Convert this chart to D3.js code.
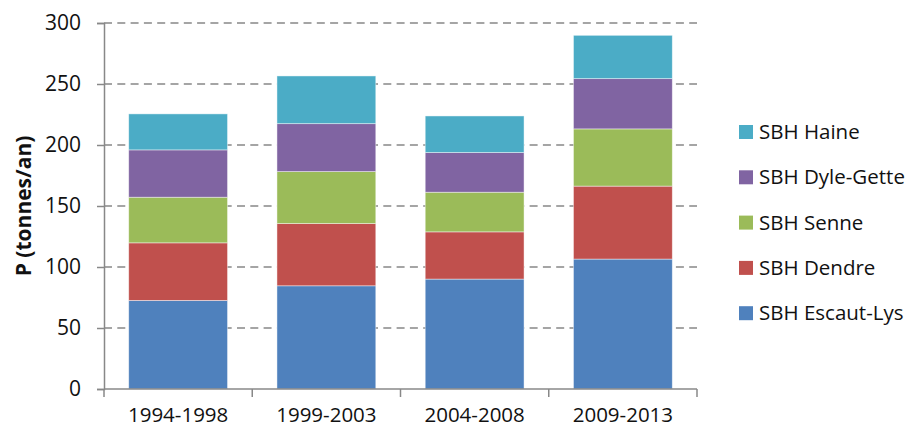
<!DOCTYPE html>
<html>
<head>
<meta charset="utf-8">
<script src="https://cdn.jsdelivr.net/npm/d3@7"></script>
<style>
  html, body { margin: 0; padding: 0; background: #fff; }
  svg { display: block; font-family: "Open Sans", sans-serif; }
</style>
</head>
<body>
<div id="chart"></div>
<script>
// periods (x categories)
const periods = ["1994-1998", "1999-2003", "2004-2008", "2009-2013"];

// series, bottom to top of the stack
const seriesNames = ["SBH Escaut-Lys", "SBH Dendre", "SBH Senne", "SBH Dyle-Gette", "SBH Haine"];
const escautLys = [72.6, 84.6, 90.1, 106.5];
const dendre    = [47.2, 51.0, 38.7, 59.8];
const senne     = [37.4, 42.6, 32.5, 46.9];
const dyleGette = [38.8, 39.3, 32.5, 41.2];
const haine     = [29.5, 39.1, 30.0, 35.5];

const yTicks = [0, 50, 100, 150, 200, 250, 300];
const colors = ["#4F81BD", "#C0504D", "#9BBB59", "#8064A2", "#4BACC6"];

const width = 907, height = 428;
const margin = { top: 23, right: 210, bottom: 39, left: 104 };
const innerW = width - margin.left - margin.right;
const innerH = height - margin.top - margin.bottom;

// table for d3.stack
const seriesValues = [escautLys, dendre, senne, dyleGette, haine];
const table = periods.map((p, i) => {
    const row = { period: p };
    seriesNames.forEach((s, j) => { row[s] = seriesValues[j][i]; });
    return row;
});
const stacked = d3.stack().keys(seriesNames)(table);

const svg = d3.select("#chart").append("svg")
    .attr("width", width)
    .attr("height", height);

const g = svg.append("g")
    .attr("transform", `translate(${margin.left},${margin.top})`);

const x = d3.scaleBand()
    .domain(periods)
    .range([0, innerW])
    .paddingInner(1 / 3)
    .paddingOuter(1 / 6);

const y = d3.scaleLinear()
    .domain([0, 300])
    .range([innerH, 0]);

// gridlines
g.append("g")
    .selectAll("line")
    .data(yTicks.filter(d => d > 0))
    .join("line")
    .attr("x1", 0)
    .attr("x2", innerW)
    .attr("y1", d => y(d))
    .attr("y2", d => y(d))
    .attr("stroke", "#888")
    .attr("stroke-width", 1.5)
    .attr("stroke-dasharray", "8,5.3");

// stacked bars
g.append("g")
    .selectAll("g")
    .data(stacked)
    .join("g")
    .attr("fill", (d, i) => colors[i])
    .selectAll("rect")
    .data(d => d)
    .join("rect")
    .attr("x", d => x(d.data.period))
    .attr("y", d => y(d[1]))
    .attr("width", x.bandwidth())
    .attr("height", d => y(d[0]) - y(d[1]))
    .attr("stroke", "rgba(255,255,255,0.55)")
    .attr("stroke-width", 0.8);

// y axis
const yAxis = g.append("g")
    .call(d3.axisLeft(y).tickValues(yTicks).tickSize(7).tickPadding(16));
yAxis.select(".domain").attr("stroke", "#888").attr("stroke-width", 1.5);
yAxis.selectAll(".tick line").attr("stroke", "#888").attr("stroke-width", 1.5);
yAxis.selectAll(".tick text")
    .attr("font-size", "21px")
    .attr("font-family", "Open Sans, sans-serif")
    .attr("fill", "#111");

// x axis: ticks between categories
const xAxisG = g.append("g")
    .attr("transform", `translate(0,${innerH})`);
xAxisG.append("line")
    .attr("x1", 0).attr("x2", innerW)
    .attr("stroke", "#888").attr("stroke-width", 1.5);
const step = x.step();
const boundaries = d3.range(periods.length + 1).map(i => x(periods[0]) - step * x.paddingOuter() + i * step);
xAxisG.selectAll("line.tk")
    .data(boundaries)
    .join("line")
    .attr("class", "tk")
    .attr("x1", d => d).attr("x2", d => d)
    .attr("y1", 0).attr("y2", 8)
    .attr("stroke", "#888").attr("stroke-width", 1.5);
xAxisG.selectAll("text")
    .data(periods)
    .join("text")
    .attr("x", d => x(d) + x.bandwidth() / 2)
    .attr("y", 33)
    .attr("text-anchor", "middle")
    .attr("font-size", "20.5px")
    .attr("fill", "#111")
    .text(d => d);

// y title
svg.append("text")
    .attr("transform", `translate(31,${margin.top + innerH / 2}) rotate(-90)`)
    .attr("text-anchor", "middle")
    .attr("font-size", "21px")
    .attr("font-weight", "bold")
    .attr("fill", "#111")
    .text("P (tonnes/an)");

// legend (top entry = top of stack)
const legend = svg.append("g")
    .attr("transform", "translate(739,132)");
const legendItems = seriesNames.map((s, i) => ({ name: s, color: colors[i] })).reverse();
const li = legend.selectAll("g")
    .data(legendItems)
    .join("g")
    .attr("transform", (d, i) => `translate(0,${i * 45.3})`);
li.append("rect")
    .attr("x", 0).attr("y", -7)
    .attr("width", 14).attr("height", 14)
    .attr("fill", d => d.color);
li.append("text")
    .attr("x", 20)
    .attr("y", 0)
    .attr("dy", "0.35em")
    .attr("font-size", "20.5px")
    .attr("fill", "#111")
    .text(d => d.name);
</script>
</body>
</html>
